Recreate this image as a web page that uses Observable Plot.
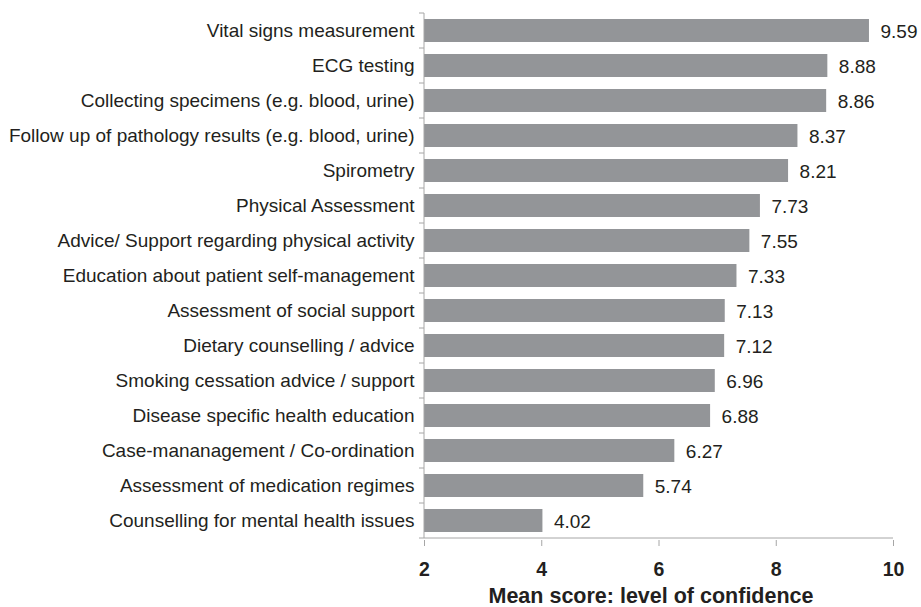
<!DOCTYPE html>
<html>
<head>
<meta charset="utf-8">
<script src="https://cdn.jsdelivr.net/npm/d3@7"></script>
<script src="https://cdn.jsdelivr.net/npm/@observablehq/plot@0.6"></script>
<style>
  html, body { margin: 0; padding: 0; background: #fff; }
</style>
</head>
<body>
<div id="chart"></div>
<script>
const categories = [
  "Vital signs measurement",
  "ECG testing",
  "Collecting specimens (e.g. blood, urine)",
  "Follow up of pathology results (e.g. blood, urine)",
  "Spirometry",
  "Physical Assessment",
  "Advice/ Support regarding physical activity",
  "Education about patient self-management",
  "Assessment of social support",
  "Dietary counselling / advice",
  "Smoking cessation advice / support",
  "Disease specific health education",
  "Case-mananagement / Co-ordination",
  "Assessment of medication regimes",
  "Counselling for mental health issues"
];
const values = [9.59, 8.88, 8.86, 8.37, 8.21, 7.73, 7.55, 7.33, 7.13, 7.12, 6.96, 6.88, 6.27, 5.74, 4.02];
const xTicks = [2, 4, 6, 8, 10];
const xTitle = "Mean score: level of confidence";

const data = categories.map((c, i) => ({category: c, value: values[i]}));

const boundaryTicks = (index, scales) => {
  const y = scales.y, x = scales.x;
  const step = y.step(), bw = y.bandwidth();
  const gap = (step - bw) / 2;
  const x0 = x(xTicks[0]), x1 = x(xTicks[xTicks.length - 1]);
  const ys = categories.map(c => y(c) - gap);
  const yEnd = y(categories[categories.length - 1]) + bw + gap;
  ys.push(yEnd);
  const g = d3.create("svg:g").attr("stroke", "#a6a6a6").attr("stroke-width", 1);
  for (const yy of ys) {
    g.append("line").attr("x1", x0 - 5).attr("x2", x0).attr("y1", yy).attr("y2", yy);
  }
  g.append("line").attr("x1", x0).attr("x2", x1).attr("y1", yEnd).attr("y2", yEnd);
  g.append("line").attr("x1", x0).attr("x2", x0).attr("y1", ys[0]).attr("y2", yEnd);
  return g.node();
};

const chart = Plot.plot({
  width: 921,
  height: 607,
  marginLeft: 424,
  marginRight: 28,
  marginTop: 10,
  marginBottom: 67,
  style: {fontFamily: "'Liberation Sans', Arial, sans-serif", color: "#231f20", background: "#fff"},
  x: {domain: [2, 10]},
  y: {domain: categories, paddingInner: 0.35, paddingOuter: 0.175},
  marks: [
    Plot.barX(data, {x1: 2, x2: "value", y: "category", fill: "#939598"}),
    Plot.text(data, {x: "value", y: "category", text: d => d.value.toFixed(2), textAnchor: "start", dx: 11, dy: 1, fontSize: 19, fill: "#231f20"}),
    Plot.axisY({tickSize: 0, tickPadding: 10, fontSize: 19, label: null}),
    Plot.axisX({ticks: xTicks, tickSize: 6, tickPadding: 16, fontSize: 19.5, fontWeight: "bold", stroke: "#a6a6a6", label: null}),
    boundaryTicks,
    Plot.text([xTitle], {frameAnchor: "bottom", text: d => d, dy: 62, dx: -8, fontSize: 21.5, fontWeight: "bold", fill: "#231f20"})
  ]
});
document.getElementById("chart").appendChild(chart);
</script>
</body>
</html>
